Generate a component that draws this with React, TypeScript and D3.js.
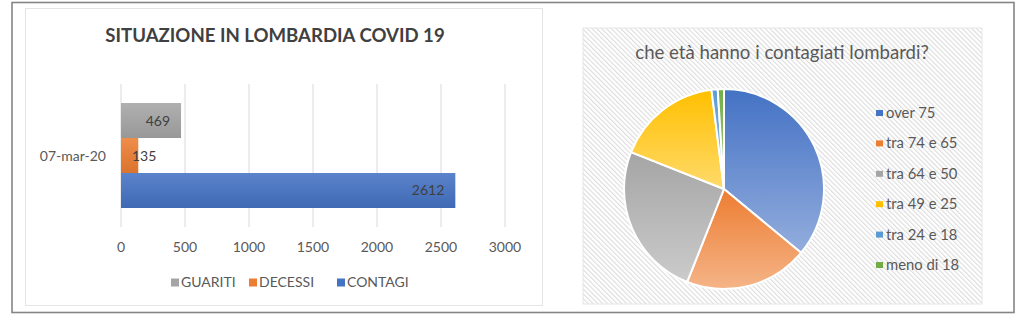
import React from "react";
import * as d3 from "d3";

const categories = ["07-mar-20"];
const barSeries = ["GUARITI", "DECESSI", "CONTAGI"];
const barValues = [469, 135, 2612];
const barColors = ["#A5A5A5", "#ED7D31", "#4472C4"];
const xTicks = [0, 500, 1000, 1500, 2000, 2500, 3000];

const ageGroups = ["over 75", "tra 74 e 65", "tra 64 e 50", "tra 49 e 25", "tra 24 e 18", "meno di 18"];
const agePercent = [36, 20, 25, 17, 1, 1];
const ageColors = ["#4472C4", "#ED7D31", "#A5A5A5", "#FFC000", "#5B9BD5", "#70AD47"];

const FONT = "Lato, 'Open Sans', sans-serif";

export default function App() {
  const W = 1024, H = 319;
  const x = d3.scaleLinear().domain([0, 3000]).range([121, 505]);
  const yCat = d3.scaleBand<string>().domain(categories).range([84, 227]).paddingOuter(0.181).paddingInner(0);
  const ySer = d3.scaleBand<string>().domain(barSeries).range([0, yCat.bandwidth()]);

  const legendX = [171, 249, 337];

  const pieGen = d3.pie<number>().sort(null).value((d) => d);
  const arcs = pieGen(agePercent);
  const r = 100;
  const arcGen = d3.arc<d3.PieArcDatum<number>>().innerRadius(0).outerRadius(r);
  const cx = 724, cy = 189;

  const lighten = (c: string, k: number) => d3.interpolateRgb(c, "#ffffff")(k);
  const darken = (c: string, k: number) => d3.interpolateRgb(c, "#000000")(k);

  return (
    <svg width={W} height={H} style={{ position: "absolute", left: 0, top: 0, background: "#fff" }} fontFamily={FONT}>
      <defs>
        <pattern id="hatch" width={3.4} height={3.4} patternUnits="userSpaceOnUse" patternTransform="rotate(-45)">
          <rect width={3.4} height={3.4} fill="#ffffff" />
          <line x1={0.6} y1={0} x2={0.6} y2={3.4} stroke="#d9d9d9" strokeWidth={1} />
        </pattern>
        {barColors.map((c, i) => (
          <linearGradient key={i} id={`bg${i}`} x1="0" y1="0" x2="0" y2="1">
            <stop offset="0" stopColor={lighten(c, 0.12)} />
            <stop offset="1" stopColor={darken(c, 0.08)} />
          </linearGradient>
        ))}
        {ageColors.map((c, i) => (
          <linearGradient key={i} id={`pg${i}`} x1="0" y1="0" x2="0" y2="1">
            <stop offset="0" stopColor={c} />
            <stop offset="1" stopColor={lighten(c, 0.42)} />
          </linearGradient>
        ))}
      </defs>
      <rect x={0} y={0} width={W} height={H} fill="#fff" />
      {/* outer frame */}
      <rect x={12} y={2.5} width={1002} height={310} fill="none" stroke="#858585" strokeWidth={1.6} />
      {/* left chart frame */}
      <rect x={25.5} y={8.5} width={517} height={297} fill="none" stroke="#e4e4e4" strokeWidth={1} />

      {/* bar chart title */}
      <text x={275} y={42} textAnchor="middle" fontSize={18.6} fontWeight="bold" fill="#404040">
        SITUAZIONE IN LOMBARDIA COVID 19
      </text>

      {/* gridlines */}
      {xTicks.map((t) => (
        <line key={t} x1={x(t)} x2={x(t)} y1={84} y2={227} stroke="#d9d9d9" strokeWidth={1} />
      ))}
      {xTicks.map((t) => (
        <text key={t} x={x(t)} y={252} textAnchor="middle" fontSize={14} fill="#595959">
          {t}
        </text>
      ))}

      {categories.map((c) => (
        <g key={c}>
          <text x={106} y={yCat(c)! + yCat.bandwidth() / 2 + 5} textAnchor="end" fontSize={14} fill="#595959">
            {c}
          </text>
          {barSeries.map((s, i) => {
            const y0 = yCat(c)! + ySer(s)!;
            const w = x(barValues[i]) - x(0);
            const inside = w > 40;
            return (
              <g key={s}>
                <rect x={x(0)} y={y0} width={w} height={ySer.bandwidth()} fill={`url(#bg${i})`} />
                <text
                  x={inside ? x(barValues[i]) - 11 : x(0) + 11}
                  y={y0 + ySer.bandwidth() / 2 + 5}
                  textAnchor={inside ? "end" : "start"}
                  fontSize={14}
                  fill="#404040"
                >
                  {barValues[i]}
                </text>
              </g>
            );
          })}
        </g>
      ))}

      {/* bar legend */}
      {barSeries.map((s, i) => (
        <g key={s}>
          <rect x={legendX[i]} y={278.5} width={8} height={8} fill={barColors[i]} />
          <text x={legendX[i] + 10} y={287} fontSize={14} fill="#595959">
            {s}
          </text>
        </g>
      ))}

      {/* right panel */}
      <rect x={583} y={28} width={399} height={276} fill="url(#hatch)" stroke="#e6e6e6" strokeWidth={1} />
      <text x={782} y={59} textAnchor="middle" fontSize={18.6} fill="#595959">
        che età hanno i contagiati lombardi?
      </text>
      <g transform={`translate(${cx},${cy})`}>
        {arcs.map((a, i) => (
          <path key={i} d={arcGen(a)!} fill={`url(#pg${i})`} stroke="#ffffff" strokeWidth={2} strokeLinejoin="round" />
        ))}
      </g>
      {ageGroups.map((g, i) => {
        const yy = 113 + i * 30.4;
        return (
          <g key={g}>
            <rect x={876} y={yy - 3} width={7} height={6} fill={ageColors[i]} />
            <text x={886} y={yy + 5} fontSize={14.8} fill="#595959">
              {g}
            </text>
          </g>
        );
      })}
    </svg>
  );
}
